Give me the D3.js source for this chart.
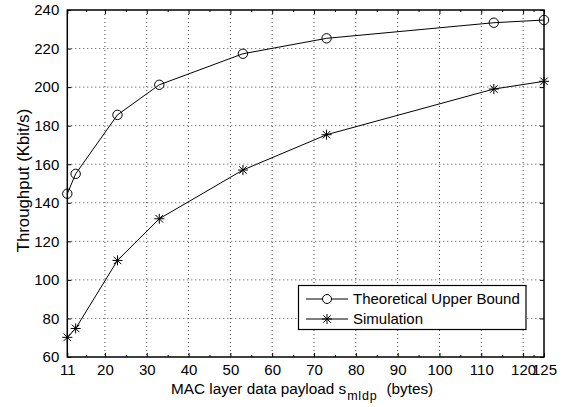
<html>
<head>
<script src="https://cdnjs.cloudflare.com/ajax/libs/d3/7.8.5/d3.min.js"></script>
<style>
  body { margin: 0; background: #fff; }
  svg { font-family: Arial, "Liberation Sans", Helvetica, sans-serif; }
  .grid line { stroke: #444; stroke-width: 1; stroke-dasharray: 1,3; }
</style>
</head>
<body>
<svg id="chart" width="569" height="407"></svg>
<script>
// payload sizes (bytes)
var payload = [11, 13, 23, 33, 53, 73, 113, 125];
var upperBound = [144.7, 155, 185.6, 201.2, 217.3, 225.3, 233.4, 234.8];
var simulation = [70.2, 74.8, 110.1, 131.7, 157, 175.3, 199, 203];
var xTicks = [11, 20, 30, 40, 50, 60, 70, 80, 90, 100, 110, 120, 125];
var yTicks = [60, 80, 100, 120, 140, 160, 180, 200, 220, 240];

var svg = d3.select("#chart");
var pLeft = 67.3, pRight = 544, pTop = 10, pBottom = 357;

var x = d3.scaleLinear().domain([11, 125]).range([pLeft, pRight]);
var y = d3.scaleLinear().domain([60, 240]).range([pBottom, pTop]);

// minor ticks half way between major ones
var minor = [];
for (var i = 0; i < xTicks.length - 1; i++) minor.push((xTicks[i] + xTicks[i + 1]) / 2);

// grid
var grid = svg.append("g").attr("class", "grid");
grid.selectAll("line.v")
    .data(xTicks.slice(1, -1))
    .enter().append("line")
    .attr("x1", d => x(d)).attr("x2", d => x(d))
    .attr("y1", pTop).attr("y2", pBottom);
grid.selectAll("line.h")
    .data(yTicks.slice(1, -1))
    .enter().append("line")
    .attr("x1", pLeft).attr("x2", pRight)
    .attr("y1", d => y(d)).attr("y2", d => y(d));

// axes (ticks inward)
var fmt = d3.format("d");
svg.append("g").attr("transform", "translate(0," + pBottom + ")")
    .call(d3.axisBottom(x).tickValues(xTicks).tickSizeInner(-4).tickSizeOuter(0).tickPadding(7).tickFormat(fmt));
svg.append("g").attr("transform", "translate(0," + pTop + ")")
    .call(d3.axisTop(x).tickValues(xTicks).tickSizeInner(-4).tickSizeOuter(0).tickFormat(""));
svg.append("g").attr("transform", "translate(" + pLeft + ",0)")
    .call(d3.axisLeft(y).tickValues(yTicks).tickSizeInner(-4).tickSizeOuter(0).tickPadding(8).tickFormat(fmt));
svg.append("g").attr("transform", "translate(" + pRight + ",0)")
    .call(d3.axisRight(y).tickValues(yTicks).tickSizeInner(-4).tickSizeOuter(0).tickFormat(""));
svg.append("g").attr("transform", "translate(0," + pBottom + ")")
    .call(d3.axisBottom(x).tickValues(minor).tickSizeInner(-2).tickSizeOuter(0).tickFormat(""));
svg.append("g").attr("transform", "translate(0," + pTop + ")")
    .call(d3.axisTop(x).tickValues(minor).tickSizeInner(-2).tickSizeOuter(0).tickFormat(""));

svg.selectAll(".domain").remove();
svg.selectAll(".tick line").attr("stroke", "#000");
svg.selectAll(".tick text").attr("font-size", 15).attr("fill", "#000")
    .attr("font-family", "Arial, 'Liberation Sans', sans-serif");

svg.append("rect")
    .attr("x", pLeft).attr("y", pTop)
    .attr("width", pRight - pLeft).attr("height", pBottom - pTop)
    .attr("fill", "none").attr("stroke", "#000").attr("stroke-width", 1.5);

// lines
var line = d3.line().x(d => x(d[0])).y(d => y(d[1]));
var ub = payload.map((p, i) => [p, upperBound[i]]);
var sim = payload.map((p, i) => [p, simulation[i]]);

svg.append("path").datum(ub).attr("d", line)
    .attr("fill", "none").attr("stroke", "#000").attr("stroke-width", 1);
svg.append("path").datum(sim).attr("d", line)
    .attr("fill", "none").attr("stroke", "#000").attr("stroke-width", 1);

function star(g, cx, cy, r) {
    var d = "M" + (cx - r) + "," + cy + "h" + (2 * r) +
            "M" + cx + "," + (cy - r) + "v" + (2 * r) +
            "M" + (cx - r * 0.75) + "," + (cy - r * 0.75) + "l" + (1.5 * r) + "," + (1.5 * r) +
            "M" + (cx - r * 0.75) + "," + (cy + r * 0.75) + "l" + (1.5 * r) + "," + (-1.5 * r);
    g.append("path").attr("d", d).attr("stroke", "#000").attr("stroke-width", 1).attr("fill", "none");
}

svg.selectAll("circle.ub")
    .data(ub).enter().append("circle")
    .attr("cx", d => x(d[0])).attr("cy", d => y(d[1])).attr("r", 4.7)
    .attr("fill", "none").attr("stroke", "#000").attr("stroke-width", 1);

var stars = svg.append("g");
sim.forEach(d => star(stars, x(d[0]), y(d[1]), 5));

// legend
var lg = svg.append("g");
lg.append("rect").attr("x", 298.5).attr("y", 285.5).attr("width", 227.5).attr("height", 44)
    .attr("fill", "#fff").attr("stroke", "#000").attr("stroke-width", 1.2);
lg.append("line").attr("x1", 306).attr("x2", 348).attr("y1", 299).attr("y2", 299).attr("stroke", "#000");
lg.append("circle").attr("cx", 327).attr("cy", 299).attr("r", 4.5).attr("fill", "#fff").attr("stroke", "#000");
lg.append("line").attr("x1", 306).attr("x2", 348).attr("y1", 319).attr("y2", 319).attr("stroke", "#000");
star(lg, 327, 319, 5);
lg.append("text").attr("x", 353).attr("y", 303.5).attr("font-size", 15).text("Theoretical Upper Bound");
lg.append("text").attr("x", 353).attr("y", 323.5).attr("font-size", 15).text("Simulation");

// axis labels
var xl = svg.append("text").attr("x", 171).attr("y", 394).attr("font-size", 15.3);
xl.append("tspan").text("MAC layer data payload s");
xl.append("tspan").attr("font-size", 12.5).attr("letter-spacing", 0.8).attr("dy", 6).attr("dx", 1).text("mldp");
xl.append("tspan").attr("dy", -6).attr("dx", 9).text("(bytes)");

svg.append("text")
    .attr("transform", "translate(28.5,180.5) rotate(-90)")
    .attr("text-anchor", "middle").attr("font-size", 16.8)
    .text("Throughput (Kbit/s)");
</script>
</body>
</html>
